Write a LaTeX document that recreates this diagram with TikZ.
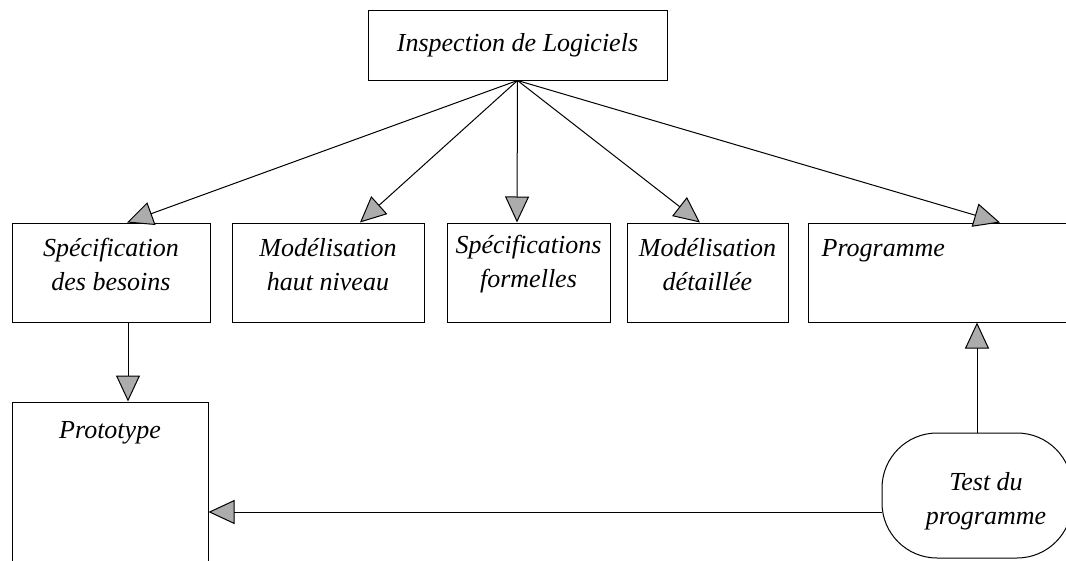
\documentclass[tikz,border=0pt]{standalone}
\usepackage{fontspec}
\setmainfont{Liberation Serif}
\usetikzlibrary{arrows.meta}

\tikzset{
  box/.style={draw, line width=1pt, rectangle, inner sep=0pt},
  lbl/.style={inner sep=0pt, align=center,
    font=\itshape\fontsize{26}{34}\selectfont},
  arr/.style={line width=1pt,
    -{Triangle[length=26pt,width=24pt,fill=gray!65]}},
}

\begin{document}
\begin{tikzpicture}[x=1pt,y=-1pt]
\useasboundingbox (0,0) rectangle (1066,560);

% top of the hierarchy
\node[box, minimum width=299pt, minimum height=70pt] (top) at (517.5,45) {};
\node[lbl] (topt) at (top.center) {Inspection de Logiciels};

% the five work products
\node[box, minimum width=198pt, minimum height=99pt] (b1) at (111,272.5) {};
\node[lbl] (b1t) at ([yshift=8pt]b1.center) {Spécification\\des besoins};
\node[box, minimum width=192pt, minimum height=99pt] (b2) at (328,272.5) {};
\node[lbl] (b2t) at ([yshift=8pt]b2.center) {Modélisation\\haut niveau};
\node[box, minimum width=163pt, minimum height=99pt] (b3) at (528.5,272.5) {};
\node[lbl] (b3t) at ([yshift=8pt]b3.center) {Spécifications\\formelles};
\node[box, minimum width=161pt, minimum height=99pt] (b4) at (707.5,272.5) {};
\node[lbl] (b4t) at ([yshift=8pt]b4.center) {Modélisation\\détaillée};
\node[box, minimum width=270pt, minimum height=99pt] (b5) at (943,272.5) {};
\node[lbl, anchor=north west] (b5t) at ([xshift=14pt,yshift=-17pt]b5.north west)
  {Programme};

% bottom row
\node[box, minimum width=196pt, minimum height=160pt] (proto) at (110,482) {};
\node[lbl, anchor=north] (protot) at ([yshift=-20pt]proto.north) {Prototype};

\node[box, rounded corners=55pt, minimum width=190pt, minimum height=125pt]
  (test) at (977,495.5) {};
\node[lbl] (testt) at ([xshift=9pt,yshift=-6pt]test.center) {Test du\\programme};

\coordinate (row) at (0,512);

% connectors
\draw[arr] (top.south) -- ([xshift=16pt]b1.north);
\draw[arr] (top.south) -- ([xshift=32pt]b2.north);
\draw[arr] (top.south) -- ([xshift=-11.5pt]b3.north);
\draw[arr] (top.south) -- ([xshift=-7.5pt]b4.north);
\draw[arr] (top.south) -- ([xshift=57pt]b5.north);
\draw[arr] ([xshift=17pt]b1.south) -- ([xshift=18pt]proto.north);
\draw[arr] (test.north) -- (test.north |- b5.south);
\draw[arr] (test.west |- row) -- (proto.east |- row);
\end{tikzpicture}
\end{document}
